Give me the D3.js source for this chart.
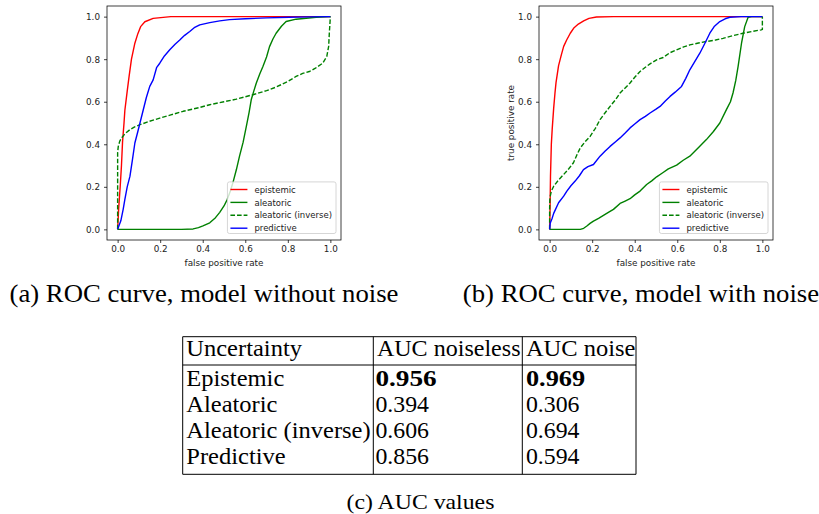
<!DOCTYPE html>
<html>
<head>
<meta charset="utf-8">
<script src="https://cdn.jsdelivr.net/npm/d3@7"></script>
<style>
body { margin: 0; background: #fff; }
svg { display: block; }
</style>
</head>
<body>
<script>
// ROC points [false positive rate, true positive rate]
var noiselessEpistemic = [[0,0],[0.005,0.1],[0.012,0.2],[0.018,0.3],[0.023,0.41],[0.03,0.5],[0.034,0.56],[0.045,0.65],[0.054,0.72],[0.065,0.8],[0.081,0.875],[0.095,0.92],[0.108,0.953],[0.128,0.976],[0.167,0.992],[0.25,1],[1,1]];
var noiselessAleatoric = [[0,0],[0.3,0],[0.355,0.002],[0.38,0.008],[0.401,0.016],[0.433,0.031],[0.46,0.055],[0.48,0.08],[0.5,0.11],[0.515,0.14],[0.53,0.18],[0.542,0.22],[0.558,0.28],[0.573,0.344],[0.59,0.41],[0.605,0.484],[0.618,0.55],[0.628,0.609],[0.64,0.65],[0.652,0.688],[0.668,0.73],[0.683,0.766],[0.7,0.81],[0.714,0.859],[0.73,0.895],[0.745,0.922],[0.77,0.955],[0.792,0.977],[0.839,0.988],[0.933,0.997],[1,1]];
var noiselessAleatoricInv = [[0,0],[0,0.2],[0,0.36],[0.003,0.39],[0.01,0.415],[0.019,0.43],[0.035,0.45],[0.058,0.469],[0.08,0.482],[0.105,0.492],[0.15,0.508],[0.198,0.523],[0.25,0.538],[0.308,0.555],[0.386,0.573],[0.433,0.586],[0.5,0.6],[0.558,0.612],[0.636,0.633],[0.7,0.652],[0.745,0.669],[0.8,0.695],[0.839,0.719],[0.87,0.733],[0.901,0.742],[0.93,0.758],[0.964,0.781],[0.983,0.812],[0.992,0.86],[0.995,0.92],[1,1]];
var noiselessPredictive = [[0,0],[0.015,0.04],[0.026,0.094],[0.034,0.141],[0.045,0.2],[0.058,0.25],[0.07,0.33],[0.081,0.406],[0.095,0.46],[0.105,0.5],[0.12,0.56],[0.135,0.62],[0.151,0.672],[0.167,0.703],[0.183,0.76],[0.198,0.781],[0.22,0.815],[0.245,0.844],[0.27,0.87],[0.292,0.89],[0.315,0.912],[0.339,0.93],[0.36,0.948],[0.386,0.961],[0.433,0.972],[0.48,0.98],[0.526,0.986],[0.6,0.99],[0.7,0.994],[0.808,0.997],[0.9,0.999],[1,1]];

var noiseEpistemic = [[0,0],[0.002,0.1],[0.004,0.25],[0.008,0.4],[0.012,0.47],[0.019,0.57],[0.025,0.64],[0.03,0.69],[0.042,0.77],[0.055,0.82],[0.066,0.86],[0.08,0.89],[0.097,0.922],[0.115,0.948],[0.135,0.965],[0.16,0.98],[0.185,0.992],[0.22,0.998],[0.3,1],[1,1]];
var noiseAleatoric = [[0,0],[0.144,0],[0.16,0.005],[0.175,0.016],[0.19,0.028],[0.206,0.039],[0.23,0.052],[0.253,0.066],[0.28,0.082],[0.3,0.094],[0.331,0.122],[0.355,0.133],[0.378,0.144],[0.4,0.162],[0.425,0.18],[0.456,0.211],[0.48,0.228],[0.503,0.247],[0.53,0.265],[0.558,0.284],[0.597,0.302],[0.628,0.325],[0.659,0.344],[0.7,0.385],[0.737,0.422],[0.77,0.46],[0.8,0.5],[0.831,0.563],[0.85,0.6],[0.862,0.641],[0.875,0.7],[0.886,0.766],[0.902,0.875],[0.917,0.953],[0.933,0.997],[0.95,1],[1,1]];
var noiseAleatoricInv = [[0,0],[0,0.1],[0.001,0.14],[0.003,0.156],[0.008,0.18],[0.019,0.203],[0.04,0.23],[0.066,0.258],[0.09,0.285],[0.112,0.313],[0.128,0.35],[0.144,0.383],[0.165,0.41],[0.191,0.438],[0.215,0.475],[0.237,0.516],[0.26,0.547],[0.284,0.578],[0.31,0.61],[0.331,0.641],[0.355,0.665],[0.378,0.688],[0.4,0.715],[0.425,0.742],[0.45,0.762],[0.472,0.778],[0.503,0.797],[0.534,0.808],[0.565,0.83],[0.597,0.844],[0.63,0.858],[0.659,0.867],[0.7,0.876],[0.737,0.883],[0.78,0.89],[0.815,0.898],[0.86,0.91],[0.909,0.922],[0.95,0.93],[0.995,0.938],[1,0.94],[1,1]];
var noisePredictive = [[0,0],[0.003,0.03],[0.011,0.05],[0.019,0.075],[0.042,0.125],[0.066,0.156],[0.081,0.18],[0.1,0.205],[0.12,0.227],[0.14,0.252],[0.159,0.281],[0.18,0.295],[0.206,0.305],[0.237,0.344],[0.26,0.367],[0.284,0.39],[0.31,0.412],[0.331,0.43],[0.355,0.453],[0.378,0.477],[0.4,0.495],[0.425,0.516],[0.45,0.531],[0.472,0.547],[0.5,0.565],[0.519,0.578],[0.545,0.605],[0.566,0.625],[0.59,0.645],[0.62,0.672],[0.64,0.71],[0.659,0.75],[0.68,0.785],[0.706,0.828],[0.73,0.875],[0.753,0.922],[0.775,0.955],[0.8,0.977],[0.825,0.99],[0.847,0.997],[0.9,1],[1,1]];

var seriesLabels = ["epistemic", "aleatoric", "aleatoric (inverse)", "predictive"];
var rateTicks = [0, 0.2, 0.4, 0.6, 0.8, 1.0];

var tableHeader = ["Uncertainty", "AUC noiseless", "AUC noise"];
var uncertaintyNames = ["Epistemic", "Aleatoric", "Aleatoric (inverse)", "Predictive"];
var aucNoiseless = [0.956, 0.394, 0.606, 0.856];
var aucNoise = [0.969, 0.306, 0.694, 0.594];
var captions = ["(a) ROC curve, model without noise", "(b) ROC curve, model with noise", "(c) AUC values"];

var width = 819;
var height = 514;
var svg = d3.select("body").append("svg")
            .attr("width", width)
            .attr("height", height);

var styles = [
    {color: "#ff0000", dash: null},
    {color: "#008000", dash: null},
    {color: "#008000", dash: "4.6,2"},
    {color: "#0000ff", dash: null}
];
var panelTop = 6;
var panelSize = 234;
var tickFont = 8.8;
var lineW = 1.4;

var drawPanel = function(left, series, showYLabel) {
    var x = d3.scaleLinear().domain([-0.05, 1.05]).range([left, left + panelSize]);
    var y = d3.scaleLinear().domain([-0.05, 1.05]).range([panelTop + panelSize, panelTop]);
    var g = svg.append("g");
    var line = d3.line().x(function(d) { return x(d[0]); }).y(function(d) { return y(d[1]); });

    series.forEach(function(s, i) {
        g.append("path")
         .datum(s)
         .attr("d", line)
         .attr("fill", "none")
         .attr("stroke", styles[i].color)
         .attr("stroke-width", lineW)
         .attr("stroke-linejoin", "round")
         .attr("stroke-dasharray", styles[i].dash);
    });

    g.append("rect")
     .attr("x", left).attr("y", panelTop)
     .attr("width", panelSize).attr("height", panelSize)
     .attr("fill", "none").attr("stroke", "#000").attr("stroke-width", 0.75);

    var fmt = d3.format(".1f");
    var xAxis = d3.axisBottom(x).tickValues(rateTicks).tickFormat(fmt).tickSize(3).tickPadding(3);
    var yAxis = d3.axisLeft(y).tickValues(rateTicks).tickFormat(fmt).tickSize(3).tickPadding(4);
    var gx = g.append("g").attr("transform", "translate(0," + (panelTop + panelSize) + ")").call(xAxis);
    var gy = g.append("g").attr("transform", "translate(" + left + ",0)").call(yAxis);
    [gx, gy].forEach(function(ax) {
        ax.select(".domain").remove();
        ax.attr("font-family", "DejaVu Sans").attr("font-size", tickFont);
        ax.selectAll("line").attr("stroke", "#000").attr("stroke-width", 0.75);
        ax.selectAll("text").attr("fill", "#222");
    });

    g.append("text")
     .attr("x", left + panelSize / 2).attr("y", 265.5)
     .attr("text-anchor", "middle")
     .attr("font-family", "DejaVu Sans").attr("font-size", tickFont).attr("fill", "#222")
     .text("false positive rate");

    if (showYLabel) {
        var cx = left - 28, cy = panelTop + panelSize / 2;
        g.append("text")
         .attr("x", cx).attr("y", cy)
         .attr("transform", "rotate(-90," + cx + "," + cy + ")")
         .attr("text-anchor", "middle").attr("dominant-baseline", "central")
         .attr("font-family", "DejaVu Sans").attr("font-size", tickFont).attr("fill", "#222")
         .text("true positive rate");
    }

    // legend, lower right
    var lg = g.append("g");
    var box = lg.append("rect");
    var rowH = 12.9;
    var boxH = 51.6;
    var boxTop = panelTop + panelSize - 6.5 - boxH;
    var texts = [];
    seriesLabels.forEach(function(name, i) {
        var cy = boxTop + 7.6 + rowH * i;
        lg.append("line")
          .attr("y1", cy).attr("y2", cy)
          .attr("stroke", styles[i].color).attr("stroke-width", lineW)
          .attr("stroke-dasharray", styles[i].dash)
          .attr("class", "handle");
        texts.push(lg.append("text")
          .attr("y", cy + 3.1)
          .attr("font-family", "DejaVu Sans").attr("font-size", tickFont - 0.3).attr("fill", "#222")
          .text(name));
    });
    var maxW = d3.max(texts, function(t) { return t.node().getComputedTextLength(); });
    var boxW = 3 + 17 + 7 + maxW + 4;
    var boxLeft = left + panelSize - 5 - boxW;
    box.attr("x", boxLeft).attr("y", boxTop).attr("width", boxW).attr("height", boxH)
       .attr("rx", 2).attr("fill", "#fff").attr("fill-opacity", 0.8)
       .attr("stroke", "#ccc").attr("stroke-width", 0.8);
    lg.selectAll(".handle").attr("x1", boxLeft + 3).attr("x2", boxLeft + 20);
    texts.forEach(function(t) { t.attr("x", boxLeft + 27); });
};

drawPanel(107, [noiselessEpistemic, noiselessAleatoric, noiselessAleatoricInv, noiselessPredictive], false);
drawPanel(539, [noiseEpistemic, noiseAleatoric, noiseAleatoricInv, noisePredictive], true);

// serif text, stretched a little to match Computer Modern widths
var serif = function(x, y, str, size, anchor, bold, stretch) {
    var t = svg.append("text")
       .attr("x", x).attr("y", y)
       .attr("text-anchor", anchor)
       .attr("font-family", "Liberation Serif")
       .attr("font-size", size)
       .attr("font-weight", bold ? "bold" : "normal")
       .attr("fill", "#000")
       .text(str);
    var w = t.node().getComputedTextLength();
    t.attr("textLength", w * stretch).attr("lengthAdjust", "spacingAndGlyphs");
    return t;
};

serif(204, 301.7, captions[0], 24.3, "middle", false, 1.1);
serif(641, 301.7, captions[1], 24.3, "middle", false, 1.1);

// table
var colLines = [182.7, 373.3, 522.3, 636];
var tableTop = 336.7, headerLine = 365, tableBottom = 474.3;
var tg = svg.append("g").attr("stroke", "#000").attr("stroke-width", 1);
[tableTop, headerLine, tableBottom].forEach(function(yy) {
    tg.append("line").attr("x1", colLines[0]).attr("x2", colLines[3]).attr("y1", yy).attr("y2", yy);
});
colLines.forEach(function(xx) {
    tg.append("line").attr("x1", xx).attr("x2", xx).attr("y1", tableTop).attr("y2", tableBottom);
});

var tableFont = 22.7;
var pad = 3.6;
var rowBase = d3.scaleLinear().domain([0, 1]).range([386, 412.1]);
tableHeader.forEach(function(h, j) {
    serif(colLines[j] + pad, 355.7, h, tableFont, "start", false, j === 1 ? 1.06 : 1.08);
});
var fmt3 = d3.format(".3f");
var bestNoiseless = d3.max(aucNoiseless), bestNoise = d3.max(aucNoise);
uncertaintyNames.forEach(function(name, i) {
    var yy = rowBase(i);
    serif(colLines[0] + pad, yy, name, tableFont, "start", false, 1.08);
    var b1 = aucNoiseless[i] === bestNoiseless, b2 = aucNoise[i] === bestNoise;
    serif(colLines[1] + pad - 1.5, yy, fmt3(aucNoiseless[i]), tableFont, "start", b1, b1 ? 1.2 : 1.05);
    serif(colLines[2] + pad, yy, fmt3(aucNoise[i]), tableFont, "start", b2, b2 ? 1.16 : 1.05);
});

serif(420.5, 509, captions[2], 21.8, "middle", false, 1.09);
</script>
</body>
</html>
